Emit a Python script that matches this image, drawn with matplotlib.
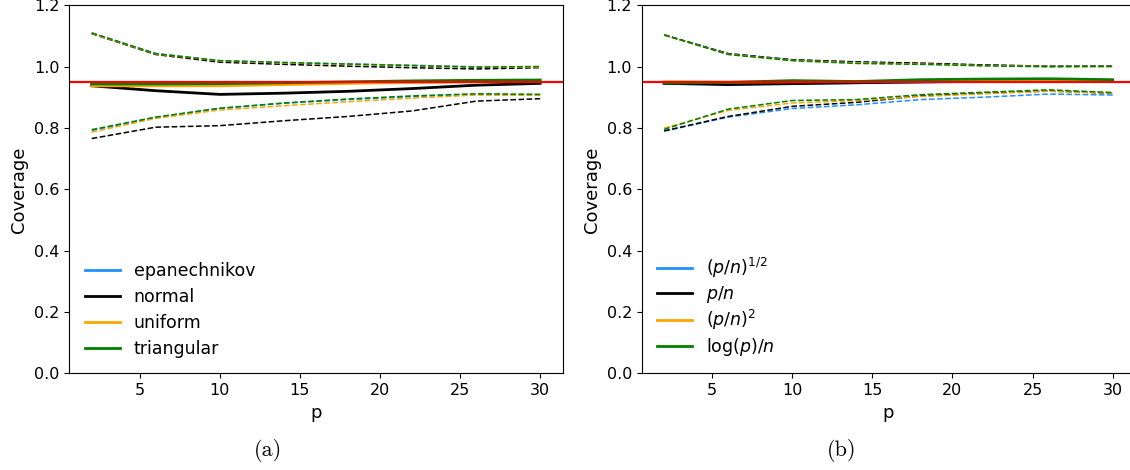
#!/usr/bin/env python3

import matplotlib.pyplot as plt

FIG_FORMAT = "png"

P = [2, 6, 10, 14, 18, 22, 26, 30]
TARGET = 0.95

# (a) kernel choice
KERNELS = ["epanechnikov", "normal", "uniform", "triangular"]
KERNEL_COV = [
    [0.942, 0.942, 0.942, 0.945, 0.948, 0.950, 0.952, 0.953],
    [0.938, 0.922, 0.910, 0.914, 0.920, 0.929, 0.940, 0.946],
    [0.938, 0.938, 0.938, 0.942, 0.946, 0.949, 0.951, 0.952],
    [0.944, 0.944, 0.945, 0.948, 0.951, 0.954, 0.956, 0.957],
]
KERNEL_LO = [
    [0.792, 0.835, 0.864, 0.881, 0.893, 0.903, 0.910, 0.909],
    [0.766, 0.803, 0.808, 0.824, 0.838, 0.856, 0.888, 0.896],
    [0.787, 0.832, 0.859, 0.873, 0.886, 0.898, 0.908, 0.907],
    [0.795, 0.836, 0.865, 0.882, 0.895, 0.905, 0.912, 0.910],
]
KERNEL_HI = [
    [1.110, 1.043, 1.020, 1.014, 1.009, 1.005, 1.000, 1.000],
    [1.108, 1.040, 1.015, 1.008, 1.002, 0.997, 0.993, 0.997],
    [1.109, 1.042, 1.019, 1.013, 1.008, 1.004, 0.999, 0.999],
    [1.111, 1.043, 1.020, 1.014, 1.009, 1.004, 0.999, 1.001],
]

# (b) bandwidth rate
RATES = [r"$(p/n)^{1/2}$", r"$p/n$", r"$(p/n)^2$", r"$\log(p)/n$"]
RATE_COV = [
    [0.947, 0.944, 0.946, 0.948, 0.950, 0.952, 0.953, 0.953],
    [0.946, 0.942, 0.945, 0.948, 0.951, 0.953, 0.954, 0.954],
    [0.951, 0.950, 0.951, 0.952, 0.953, 0.955, 0.956, 0.955],
    [0.947, 0.949, 0.955, 0.952, 0.958, 0.960, 0.961, 0.958],
]
RATE_LO = [
    [0.790, 0.836, 0.864, 0.876, 0.893, 0.901, 0.911, 0.908],
    [0.791, 0.838, 0.871, 0.884, 0.905, 0.914, 0.921, 0.914],
    [0.800, 0.858, 0.882, 0.890, 0.903, 0.912, 0.920, 0.914],
    [0.796, 0.862, 0.890, 0.893, 0.909, 0.917, 0.925, 0.916],
]
RATE_HI = [
    [1.104, 1.043, 1.023, 1.016, 1.011, 1.006, 1.002, 1.002],
    [1.104, 1.043, 1.023, 1.016, 1.012, 1.006, 1.002, 1.002],
    [1.103, 1.041, 1.021, 1.013, 1.009, 1.004, 1.001, 1.001],
    [1.104, 1.040, 1.020, 1.011, 1.008, 1.003, 1.000, 1.001],
]

COLORS = ["dodgerblue", "black", "orange", "green"]


def plot_coverage(ax, labels, cov, lo, hi, spacing=0.45):
    for label, c, l, h, color in zip(labels, cov, lo, hi, COLORS):
        ax.plot(P, c, color=color, lw=2, label=label)
        ax.plot(P, l, color=color, lw=1.1, ls="--")
        ax.plot(P, h, color=color, lw=1.1, ls="--")
    ax.axhline(TARGET, color="red", lw=1.6)

    ax.set_ylim(0, 1.2)
    ax.set_yticks([0.0, 0.2, 0.4, 0.6, 0.8, 1.0, 1.2])
    ax.set_xticks([5, 10, 15, 20, 25, 30])
    ax.tick_params(labelsize=11.5)
    ax.set_xlabel("p", fontsize=13)
    ax.set_ylabel("Coverage", fontsize=13)
    ax.legend(loc="lower left", frameon=False, fontsize=12.5,
              bbox_to_anchor=(0.0, 0.0), labelspacing=spacing)


if __name__ == "__main__":
    fig = plt.figure(figsize=(11.3, 4.7), dpi=100)
    ax_a = fig.add_axes([0.0613, 0.2057, 0.4366, 0.7826])
    ax_b = fig.add_axes([0.5679, 0.2057, 0.4366, 0.7826])

    plot_coverage(ax_a, KERNELS, KERNEL_COV, KERNEL_LO, KERNEL_HI)
    plot_coverage(ax_b, RATES, RATE_COV, RATE_LO, RATE_HI, spacing=0.2)

    fig.text(268 / 1130, 1 - 450 / 470, "(a)", family="cmr10", fontsize=16,
             ha="center", va="center")
    fig.text(842 / 1130, 1 - 450 / 470, "(b)", family="cmr10", fontsize=16,
             ha="center", va="center")

    plt.savefig(f"out.{FIG_FORMAT}", dpi=100)
    plt.close()
